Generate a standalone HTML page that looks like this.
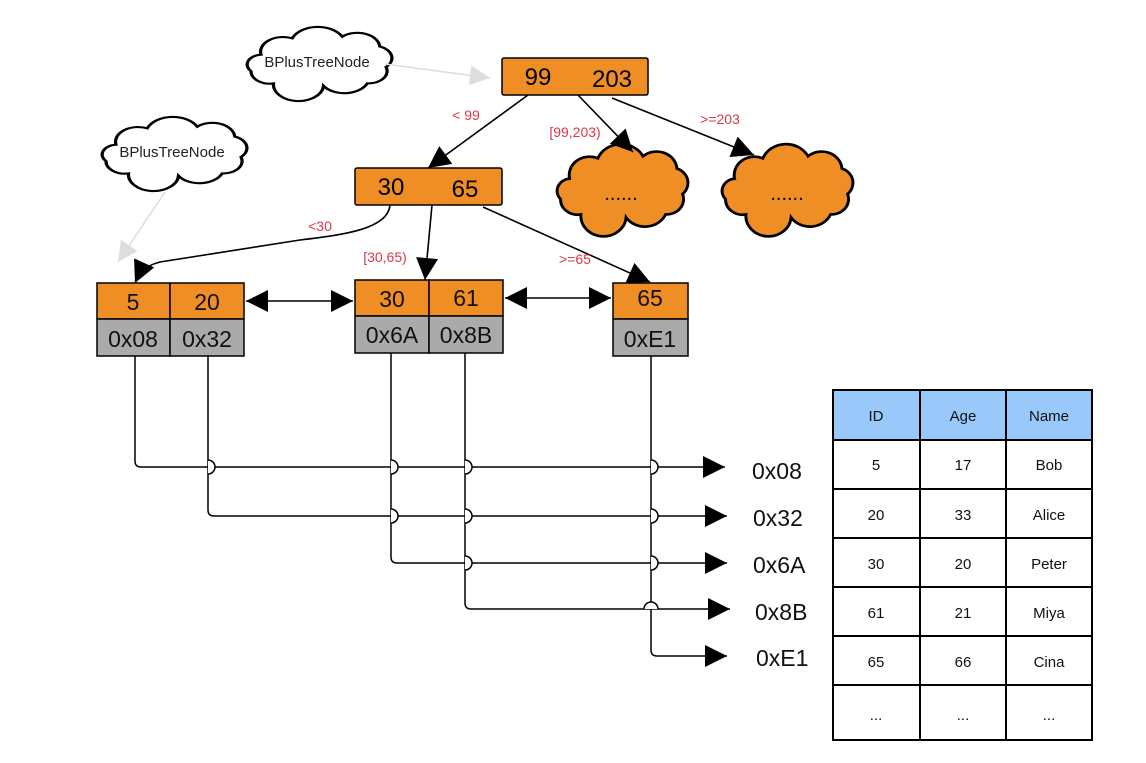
<!DOCTYPE html>
<html><head><meta charset="utf-8"><style>
html,body{margin:0;padding:0;background:#fff;}
svg{display:block;font-family:"Liberation Sans","DejaVu Sans",sans-serif;}
</style></head><body>
<svg width="1146" height="763" viewBox="0 0 1146 763" xmlns="http://www.w3.org/2000/svg">
<defs>
<marker id="ah" markerWidth="10" markerHeight="10" refX="9" refY="5" orient="auto" markerUnits="userSpaceOnUse" viewBox="0 0 10 10"><path d="M0,0 L10,5 L0,10 z" fill="#000"/></marker>
<marker id="big" viewBox="0 0 10 10" refX="10" refY="5" markerWidth="26" markerHeight="22" orient="auto" markerUnits="userSpaceOnUse"><path d="M0,0 L10,5 L0,10 z" fill="#000"/></marker>
<marker id="bigs" viewBox="0 0 10 10" refX="0" refY="5" markerWidth="26" markerHeight="22" orient="auto" markerUnits="userSpaceOnUse"><path d="M10,0 L0,5 L10,10 z" fill="#000"/></marker>
<marker id="gray" viewBox="0 0 10 10" refX="10" refY="5" markerWidth="26" markerHeight="20" orient="auto" markerUnits="userSpaceOnUse"><path d="M0,0 L10,5 L0,10 z" fill="#ddd"/></marker>
<path id="cloud" d="M20,35 a18,18 0 0 1 25,-20 a22,22 0 0 1 40,-2 a18,18 0 0 1 30,12 a15,15 0 0 1 5,25 a15,15 0 0 1 -15,20 a20,20 0 0 1 -35,3 a20,20 0 0 1 -40,-3 a15,15 0 0 1 -18,-15 a12,12 0 0 1 8,-20 z"/>
</defs>

<!-- white clouds -->
<g transform="translate(236,26) scale(1.25,0.82)"><use href="#cloud" fill="#fff" stroke="#000" stroke-width="2.6"/></g>
<text x="317" y="67" font-size="15" text-anchor="middle" fill="#222">BPlusTreeNode</text>
<g transform="translate(91,116) scale(1.25,0.82)"><use href="#cloud" fill="#fff" stroke="#000" stroke-width="2.6"/></g>
<text x="172" y="157" font-size="15" text-anchor="middle" fill="#222">BPlusTreeNode</text>

<!-- gray arrows -->
<line x1="385" y1="64" x2="490" y2="78" stroke="#ddd" stroke-width="1.5" marker-end="url(#gray)"/>
<line x1="165" y1="192" x2="118" y2="262" stroke="#ddd" stroke-width="1.5" marker-end="url(#gray)"/>

<!-- orange clouds -->
<g transform="translate(547,143) scale(1.13,1.02)"><use href="#cloud" fill="#ef8e24" stroke="#000" stroke-width="2.6"/></g>
<text x="621" y="200" font-size="20" text-anchor="middle" fill="#000">......</text>
<g transform="translate(712,143) scale(1.13,1.02)"><use href="#cloud" fill="#ef8e24" stroke="#000" stroke-width="2.6"/></g>
<text x="787" y="200" font-size="20" text-anchor="middle" fill="#000">......</text>

<!-- root -->
<rect x="502" y="58" width="146" height="37" fill="#ef8e24" stroke="#000" stroke-width="1.5" rx="2"/>
<text x="538" y="85" font-size="24" text-anchor="middle">99</text>
<text x="612" y="87" font-size="24" text-anchor="middle">203</text>

<!-- level 2 -->
<rect x="355" y="168" width="147" height="37" fill="#ef8e24" stroke="#000" stroke-width="1.5" rx="2"/>
<text x="391" y="195" font-size="24" text-anchor="middle">30</text>
<text x="465" y="197" font-size="24" text-anchor="middle">65</text>

<!-- root edges -->
<g stroke="#000" stroke-width="1.6" fill="none">
<line x1="528" y1="95" x2="428" y2="168" marker-end="url(#big)"/>
<line x1="578" y1="95" x2="633" y2="152" marker-end="url(#big)"/>
<line x1="612" y1="98" x2="754" y2="155" marker-end="url(#big)"/>
<path d="M390,205 C388,230 340,235 300,240 L160,262 C145,266 140,272 135,283" marker-end="url(#big)"/>
<line x1="432" y1="205" x2="425" y2="280" marker-end="url(#big)"/>
<line x1="483" y1="207" x2="650" y2="282" marker-end="url(#big)"/>
<line x1="246" y1="301" x2="353" y2="301" marker-start="url(#bigs)" marker-end="url(#big)"/>
<line x1="505" y1="298" x2="611" y2="298" marker-start="url(#bigs)" marker-end="url(#big)"/>
</g>

<!-- edge labels -->
<g fill="#d9394a" font-size="14" text-anchor="middle">
<text x="466" y="120">&lt; 99</text>
<text x="575" y="137">[99,203)</text>
<text x="720" y="124">&gt;=203</text>
<text x="320" y="231">&lt;30</text>
<text x="385" y="262">[30,65)</text>
<text x="575" y="264">&gt;=65</text>
</g>

<!-- leaves -->
<g stroke="#000" stroke-width="1.5">
<rect x="97" y="283" width="73" height="36" fill="#ef8e24"/>
<rect x="170" y="283" width="74" height="36" fill="#ef8e24"/>
<rect x="97" y="319" width="73" height="37" fill="#aaa"/>
<rect x="170" y="319" width="74" height="37" fill="#aaa"/>
<rect x="355" y="280" width="74" height="36" fill="#ef8e24"/>
<rect x="429" y="280" width="74" height="36" fill="#ef8e24"/>
<rect x="355" y="316" width="74" height="37" fill="#aaa"/>
<rect x="429" y="316" width="74" height="37" fill="#aaa"/>
<rect x="613" y="283" width="75" height="36" fill="#ef8e24"/>
<rect x="613" y="319" width="75" height="37" fill="#aaa"/>
</g>
<g font-size="23" text-anchor="middle" fill="#111">
<text x="133" y="310">5</text><text x="207" y="310">20</text>
<text x="392" y="307">30</text><text x="466" y="306">61</text>
<text x="650" y="306">65</text>
<text x="133" y="347">0x08</text><text x="207" y="347">0x32</text>
<text x="392" y="343">0x6A</text><text x="466" y="343">0x8B</text>
<text x="650" y="347">0xE1</text>
</g>

<!-- pointer lines -->
<g stroke="#000" stroke-width="1.5" fill="none">
<path d="M135,356 V461 Q135,467 141,467 H725" marker-end="url(#big)"/>
<path d="M208,356 V510 Q208,516 214,516 H727" marker-end="url(#big)"/>
<path d="M391,353 V557 Q391,563 397,563 H727" marker-end="url(#big)"/>
<path d="M465,353 V603 Q465,609 471,609 H730" marker-end="url(#big)"/>
<path d="M651,356 V650 Q651,656 657,656 H727" marker-end="url(#big)"/>
</g>
<!-- jump-over bumps -->
<g stroke="#000" stroke-width="1.5" fill="#fff">
<path d="M208,460 a7,7 0 0 1 0,14" />
<path d="M391,460 a7,7 0 0 1 0,14" />
<path d="M465,460 a7,7 0 0 1 0,14" />
<path d="M651,460 a7,7 0 0 1 0,14" />
<path d="M391,509 a7,7 0 0 1 0,14" />
<path d="M465,509 a7,7 0 0 1 0,14" />
<path d="M651,509 a7,7 0 0 1 0,14" />
<path d="M465,556 a7,7 0 0 1 0,14" />
<path d="M651,556 a7,7 0 0 1 0,14" />
<path d="M644,609 a7,7 0 0 1 14,0" />
</g>

<g font-size="23" fill="#111">
<text x="752" y="479">0x08</text>
<text x="753" y="526">0x32</text>
<text x="753" y="573">0x6A</text>
<text x="755" y="620">0x8B</text>
<text x="756" y="666">0xE1</text>
</g>

<!-- table -->
<rect x="833" y="390" width="259" height="50" fill="#99c9fb"/>
<g stroke="#000" stroke-width="2" fill="none">
<rect x="833" y="390" width="259" height="350"/>
<line x1="920" y1="390" x2="920" y2="740"/>
<line x1="1006" y1="390" x2="1006" y2="740"/>
<line x1="833" y1="440" x2="1092" y2="440"/>
<line x1="833" y1="489" x2="1092" y2="489"/>
<line x1="833" y1="538" x2="1092" y2="538"/>
<line x1="833" y1="587" x2="1092" y2="587"/>
<line x1="833" y1="636" x2="1092" y2="636"/>
<line x1="833" y1="685" x2="1092" y2="685"/>
</g>
<g font-size="15" text-anchor="middle" fill="#111">
<text x="876" y="421">ID</text><text x="963" y="421">Age</text><text x="1049" y="421">Name</text>
<text x="876" y="470">5</text><text x="963" y="470">17</text><text x="1049" y="470">Bob</text>
<text x="876" y="520">20</text><text x="963" y="520">33</text><text x="1049" y="520">Alice</text>
<text x="876" y="569">30</text><text x="963" y="569">20</text><text x="1049" y="569">Peter</text>
<text x="876" y="618">61</text><text x="963" y="618">21</text><text x="1049" y="618">Miya</text>
<text x="876" y="667">65</text><text x="963" y="667">66</text><text x="1049" y="667">Cina</text>
<text x="876" y="720">...</text><text x="963" y="720">...</text><text x="1049" y="720">...</text>
</g>
</svg>
</body></html>
